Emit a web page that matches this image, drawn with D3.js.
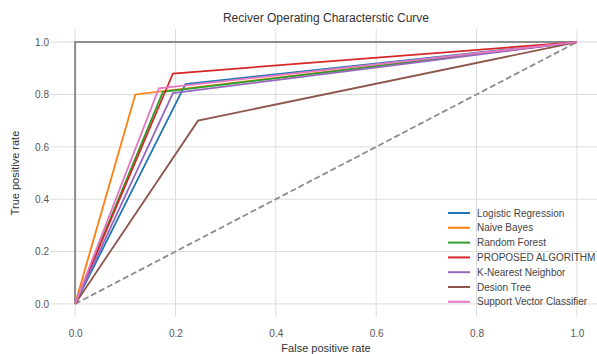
<!DOCTYPE html>
<html>
<head>
<meta charset="utf-8">
<script src="https://cdn.jsdelivr.net/npm/d3@7"></script>
<style>
  body { margin: 0; background: #fff; }
  text { font-family: "Liberation Sans", Arial, sans-serif; }
</style>
</head>
<body>
<script>
  // model names, in plot order
  let models = ["Logistic Regression", "Naive Bayes", "Random Forest", "PROPOSED ALGORITHM",
    "K-Nearest Neighbor", "Desion Tree", "Support Vector Classifier"];
  // one operating point per model: roc goes (0,0) -> (fpr,tpr) -> (1,1)
  let fprValues = [0.22, 0.12, 0.175, 0.195, 0.195, 0.245, 0.167];
  let tprValues = [0.84, 0.80, 0.81, 0.88, 0.805, 0.70, 0.823];
  let colors = ["#1f77b4", "#ff7f0e", "#2ca02c", "#d62728", "#9467bd", "#8c564b", "#e377c2"];
  let ticks = [0, 0.2, 0.4, 0.6, 0.8, 1.0];
  let perfect = [[0, 0], [0, 1], [1, 1]];
  let chance = [[0, 0], [1, 1]];

  let width = 597, height = 354;
  let svg = d3.select("body").append("svg")
    .attr("width", width)
    .attr("height", height);

  // scales: domain has a 0.05 buffer each side like matplotlib
  let xScale = d3.scaleLinear().domain([-0.05, 1.05]).range([50, 602]);
  let yScale = d3.scaleLinear().domain([-0.05, 1.05]).range([317, 29]);

  // grid
  svg.append("g").selectAll("line").data(ticks).enter().append("line")
    .attr("x1", (d) => xScale(d)).attr("x2", (d) => xScale(d))
    .attr("y1", yScale(-0.05)).attr("y2", yScale(1.05))
    .attr("stroke", "#dcdcdc").attr("stroke-width", 1);
  svg.append("g").selectAll("line").data(ticks).enter().append("line")
    .attr("y1", (d) => yScale(d)).attr("y2", (d) => yScale(d))
    .attr("x1", xScale(-0.05)).attr("x2", xScale(1.05))
    .attr("stroke", "#dcdcdc").attr("stroke-width", 1);

  // axes without domain lines
  let xAxis = d3.axisBottom(xScale).tickValues(ticks).tickSize(0).tickPadding(0).tickFormat(d3.format(".1f"));
  let gx = svg.append("g").attr("transform", "translate(0, 337)").call(xAxis);
  let yAxis = d3.axisLeft(yScale).tickValues(ticks).tickSize(0).tickPadding(0).tickFormat(d3.format(".1f"));
  let gy = svg.append("g").attr("transform", "translate(49, 0)").call(yAxis);
  [gx, gy].forEach((g) => {
    g.select(".domain").remove();
    g.selectAll("text").attr("fill", "#555").style("font-size", "10px")
      .style("font-family", "Liberation Sans, Arial, sans-serif");
  });
  gx.selectAll("text").attr("dy", "0");

  let line = d3.line().x((d) => xScale(d[0])).y((d) => yScale(d[1]));

  svg.append("path").datum(perfect).attr("d", line)
    .attr("fill", "none").attr("stroke", "#8c8c8c").attr("stroke-width", 2);
  svg.append("path").datum(chance).attr("d", line)
    .attr("fill", "none").attr("stroke", "#8c8c8c").attr("stroke-width", 1.8)
    .attr("stroke-dasharray", "6,3");

  models.forEach((m, i) => {
    let pts = [[0, 0], [fprValues[i], tprValues[i]], [1, 1]];
    svg.append("path").datum(pts).attr("d", line)
      .attr("fill", "none").attr("stroke", colors[i]).attr("stroke-width", 1.8);
  });

  // legend
  let legend = svg.append("g").attr("transform", "translate(448, 213)");
  models.forEach((m, i) => {
    let row = legend.append("g").attr("transform", "translate(0," + (i * 14.8) + ")");
    row.append("line").attr("x1", 0).attr("x2", 22).attr("y1", 0).attr("y2", 0)
      .attr("stroke", colors[i]).attr("stroke-width", 2);
    row.append("text").attr("x", 29).attr("y", 3.5).text(m)
      .attr("fill", "#444").style("font-size", "10px");
  });

  // titles
  svg.append("text").attr("x", 326).attr("y", 22).attr("text-anchor", "middle")
    .attr("fill", "#333").style("font-size", "12px").text("Reciver Operating Characterstic Curve");
  svg.append("text").attr("x", 326).attr("y", 352).attr("text-anchor", "middle")
    .attr("fill", "#333").style("font-size", "11px").text("False positive rate");
  svg.append("text").attr("transform", "translate(19, 173) rotate(-90)").attr("text-anchor", "middle")
    .attr("fill", "#333").style("font-size", "11px").text("True positive rate");
</script>
</body>
</html>
